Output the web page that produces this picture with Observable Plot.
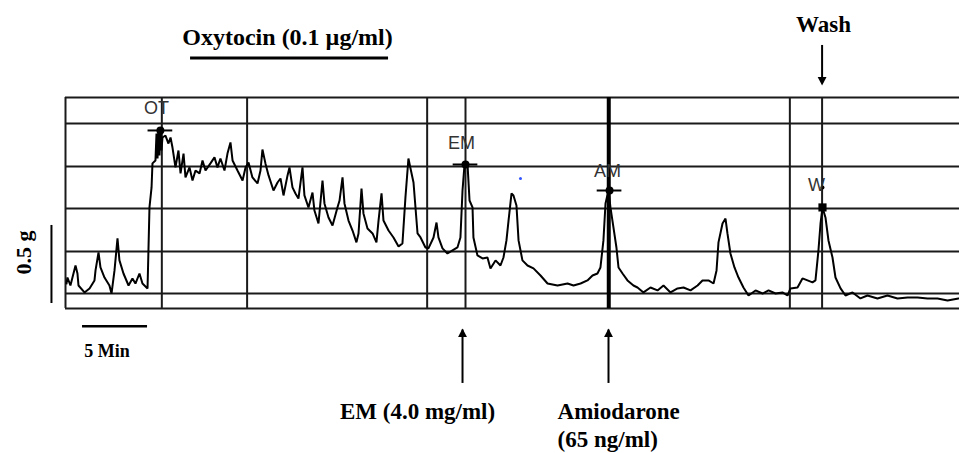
<!DOCTYPE html>
<html>
<head>
<meta charset="utf-8">
<script src="https://cdn.jsdelivr.net/npm/d3@7"></script>
<script src="https://cdn.jsdelivr.net/npm/@observablehq/plot@0.6"></script>
<style>
  html, body { margin: 0; padding: 0; background: #fff; }
  #chart svg { display: block; }
</style>
</head>
<body>
<div id="chart"></div>
<script>
// ---- Data (time in min, tension in g) ----
const traceT = [0.08,0.15,0.38,0.77,0.92,1.00,1.46,1.85,2.23,2.31,2.54,2.69,3.00,3.38,3.54,3.77,4.00,4.15,4.46,4.85,5.15,5.38,5.69,5.92,6.31,6.46,6.62,6.69,6.92,7.00,7.08,7.15,7.23,7.31,7.38,7.46,7.69,7.92,8.08,8.23,8.46,8.69,8.85,9.08,9.23,9.54,9.77,10.00,10.31,10.54,10.77,11.15,11.46,11.69,11.92,12.23,12.46,12.69,12.85,13.23,13.62,13.85,14.08,14.38,14.77,15.00,15.15,15.38,15.62,16.00,16.31,16.54,16.77,17.08,17.23,17.46,17.69,17.92,18.23,18.38,18.69,19.00,19.15,19.46,19.77,19.92,20.23,20.54,20.92,21.08,21.31,21.46,21.77,22.08,22.38,22.54,22.77,22.92,23.23,23.62,23.92,24.08,24.31,24.46,24.85,25.23,25.62,25.92,26.15,26.38,26.54,26.77,27.08,27.31,27.69,27.92,28.31,28.54,28.69,29.00,29.38,29.77,30.15,30.38,30.54,30.69,30.92,31.08,31.31,31.38,31.69,32.08,32.46,32.69,33.08,33.46,33.69,33.92,34.08,34.31,34.46,34.69,34.85,35.15,35.54,36.00,36.54,37.08,37.85,38.62,39.08,39.62,40.15,40.54,40.92,41.15,41.38,41.54,41.77,41.92,42.15,42.38,42.54,42.85,43.23,43.69,44.00,44.46,45.00,45.54,46.00,46.54,47.08,47.54,48.08,48.62,49.00,49.46,49.85,50.08,50.23,50.54,50.77,50.92,51.15,51.46,51.77,52.15,52.54,53.08,53.62,54.08,54.62,55.15,55.54,55.77,56.31,56.69,57.08,57.46,57.69,57.92,58.08,58.23,58.46,58.69,59.00,59.23,59.62,60.00,60.54,61.15,61.69,62.46,63.23,64.00,64.77,65.54,66.31,67.08,67.85,68.69];
const traceG = [0.162,0.201,0.149,0.279,0.227,0.149,0.104,0.130,0.182,0.247,0.364,0.266,0.201,0.149,0.097,0.247,0.455,0.312,0.227,0.149,0.195,0.162,0.227,0.162,0.130,0.656,0.786,0.942,0.961,1.136,0.974,1.156,0.994,1.169,1.026,1.110,1.123,1.071,1.110,1.045,0.916,1.026,0.877,1.006,0.851,0.916,0.831,0.896,0.877,0.961,0.896,0.942,0.981,0.916,0.974,0.896,1.006,1.078,0.961,0.896,0.831,0.916,0.948,0.851,0.812,0.896,1.032,0.942,0.864,0.766,0.818,0.844,0.734,0.864,0.916,0.786,0.747,0.714,0.916,0.734,0.656,0.753,0.636,0.552,0.831,0.682,0.591,0.539,0.656,0.701,0.851,0.682,0.571,0.506,0.429,0.487,0.779,0.617,0.519,0.487,0.429,0.571,0.747,0.571,0.506,0.461,0.403,0.422,0.721,0.974,0.909,0.818,0.487,0.461,0.396,0.390,0.461,0.558,0.461,0.390,0.357,0.377,0.396,0.461,0.766,0.929,0.942,0.701,0.656,0.461,0.344,0.325,0.331,0.260,0.312,0.279,0.331,0.442,0.571,0.747,0.734,0.669,0.442,0.312,0.279,0.260,0.214,0.162,0.149,0.162,0.149,0.162,0.182,0.214,0.227,0.266,0.442,0.682,0.766,0.656,0.526,0.396,0.266,0.227,0.182,0.149,0.136,0.104,0.136,0.117,0.149,0.104,0.130,0.136,0.117,0.149,0.182,0.182,0.162,0.247,0.429,0.552,0.584,0.487,0.357,0.266,0.201,0.136,0.084,0.117,0.097,0.117,0.097,0.104,0.084,0.130,0.136,0.195,0.182,0.169,0.182,0.377,0.552,0.656,0.591,0.442,0.331,0.201,0.130,0.084,0.104,0.065,0.084,0.065,0.084,0.065,0.071,0.071,0.065,0.065,0.052,0.065];

// chart-paper grid
const gridG = [0, 0.097, 0.370, 0.649, 0.922, 1.201, 1.370];
const gridT = [0, 7.41, 13.97, 27.82, 30.77, 55.72, 58.2];
const gridTBold = [41.79];
const tEnd = 68.77, gTop = 1.370;

// drug-addition markers on the trace
const markLabels = ["OT", "EM", "AM"];
const markT      = [7.3, 30.77, 41.85];
const markG      = [1.156, 0.935, 0.766];
const markLabelT = [7.0, 30.46, 41.69];
const markLabelG = [1.299, 1.071, 0.890];
const washT = 58.23, washG = 0.656;

// annotations
const arrowUpT = [30.54, 41.77];
const noteLines = ["EM (4.0 mg/ml)", "Amiodarone", "(65 ng/ml)"];
const blueDot = {t: 35.0, g: 0.844};

// ---- Build tables ----
const trace = traceT.map((t, i) => ({t, g: traceG[i]}));
const hLines = gridG.map(g => ({g, x1: 0, x2: tEnd}));
const vLines = gridT.map(t => ({t, y1: 0, y2: gTop}));
const vBold = gridTBold.map(t => ({t, y1: 0, y2: gTop}));
const marks = markLabels.map((label, i) => ({label, t: markT[i], g: markG[i], lt: markLabelT[i], lg: markLabelG[i], x1: markT[i] - 0.95, x2: markT[i] + 0.95}));

const triUp = {draw(ctx, size) { const w = Math.sqrt(size); const h = w * 0.95; ctx.moveTo(0, 0); ctx.lineTo(w / 2, h); ctx.lineTo(-w / 2, h); ctx.closePath(); }};
const triDown = {draw(ctx, size) { const w = Math.sqrt(size); const h = w * 0.95; ctx.moveTo(0, 0); ctx.lineTo(w / 2, -h); ctx.lineTo(-w / 2, -h); ctx.closePath(); }};

const upArrows = arrowUpT.map(t => ({t, y1: -0.487, y2: -0.14, tip: -0.130}));
const serif = "Liberation Serif, Times New Roman, serif";
const sans = "Liberation Sans, Arial, sans-serif";

const chart = Plot.plot({
  width: 959,
  height: 453,
  margin: 0,
  x: {domain: [-5, tEnd], axis: null},
  y: {domain: [-0.942, 2.0], axis: null},
  style: {background: "#fff"},
  marks: [
    Plot.ruleY(hLines, {y: "g", x1: "x1", x2: "x2", stroke: "#1a1a1a", strokeWidth: 2}),
    Plot.ruleX(vLines, {x: "t", y1: "y1", y2: "y2", stroke: "#1a1a1a", strokeWidth: 2}),
    Plot.ruleX(vBold, {x: "t", y1: "y1", y2: "y2", stroke: "#000", strokeWidth: 4}),
    Plot.line(trace, {x: "t", y: "g", stroke: "#000", strokeWidth: 2, strokeLinejoin: "miter"}),
    // markers
    Plot.ruleY(marks, {y: "g", x1: "x1", x2: "x2", stroke: "#000", strokeWidth: 2}),
    Plot.dot(marks, {x: "t", y: "g", r: 4, fill: "#000"}),
    Plot.text(marks, {x: "lt", y: "lg", text: "label", fontFamily: sans, fontSize: 18, fill: "#333"}),
    Plot.dot([{t: washT, g: washG}], {x: "t", y: "g", symbol: "square", r: 4.6, fill: "#000"}),
    Plot.dot([{t: washT, g: 0.786}], {x: "t", y: "g", r: 2, fill: "#000"}),
    Plot.text([{t: 57.77, g: 0.799, s: "W"}], {x: "t", y: "g", text: "s", fontFamily: sans, fontSize: 18, fill: "#333"}),
    Plot.dot([blueDot], {x: "t", y: "g", r: 1.5, fill: "#3355ff"}),
    // title with underline
    Plot.text([{t: 17.08, g: 1.708, s: "Oxytocin (0.1 µg/ml)"}], {x: "t", y: "g", text: "s", fontFamily: serif, fontWeight: "bold", fontSize: 24, lineAnchor: "bottom", fill: "#000"}),
    Plot.ruleY([{g: 1.627, x1: 9.62, x2: 24.85}], {y: "g", x1: "x1", x2: "x2", stroke: "#000", strokeWidth: 3}),
    // wash arrow
    Plot.text([{t: 58.31, g: 1.795, s: "Wash"}], {x: "t", y: "g", text: "s", fontFamily: serif, fontWeight: "bold", fontSize: 23, lineAnchor: "bottom", fill: "#000"}),
    Plot.ruleX([{t: 58.2, y1: 1.708, y2: 1.46}], {x: "t", y1: "y1", y2: "y2", stroke: "#000", strokeWidth: 2}),
    Plot.dot([{t: 58.2, g: 1.448}], {x: "t", y: "g", symbol: triDown, r: 5, fill: "#000", stroke: "none"}),
    // up arrows
    Plot.ruleX(upArrows, {x: "t", y1: "y1", y2: "y2", stroke: "#000", strokeWidth: 2}),
    Plot.dot(upArrows, {x: "t", y: "tip", symbol: triUp, r: 5, fill: "#000", stroke: "none"}),
    Plot.text([{t: 27.08, g: -0.721, s: noteLines[0]}], {x: "t", y: "g", text: "s", fontFamily: serif, fontWeight: "bold", fontSize: 23, lineAnchor: "bottom", fill: "#000"}),
    Plot.text([{t: 37.85, g: -0.721, s: noteLines[1]}, {t: 37.85, g: -0.903, s: noteLines[2]}], {x: "t", y: "g", text: "s", textAnchor: "start", fontFamily: serif, fontWeight: "bold", fontSize: 23, lineAnchor: "bottom", fill: "#000"}),
    // scale bars
    Plot.ruleY([{g: -0.115, x1: 1.31, x2: 6.31}], {y: "g", x1: "x1", x2: "x2", stroke: "#000", strokeWidth: 2.5}),
    Plot.text([{t: 3.19, g: -0.318, s: "5 Min"}], {x: "t", y: "g", text: "s", fontFamily: serif, fontWeight: "bold", fontSize: 18, lineAnchor: "bottom", fill: "#000"}),
    Plot.ruleX([{t: -1.08, y1: 0.032, y2: 0.539}], {x: "t", y1: "y1", y2: "y2", stroke: "#000", strokeWidth: 2}),
    Plot.text([{t: -3.23, g: 0.364, s: "0.5 g"}], {x: "t", y: "g", text: "s", rotate: -90, fontFamily: serif, fontWeight: "bold", fontSize: 22, fill: "#000"})
  ]
});
document.getElementById("chart").append(chart);
</script>
</body>
</html>
